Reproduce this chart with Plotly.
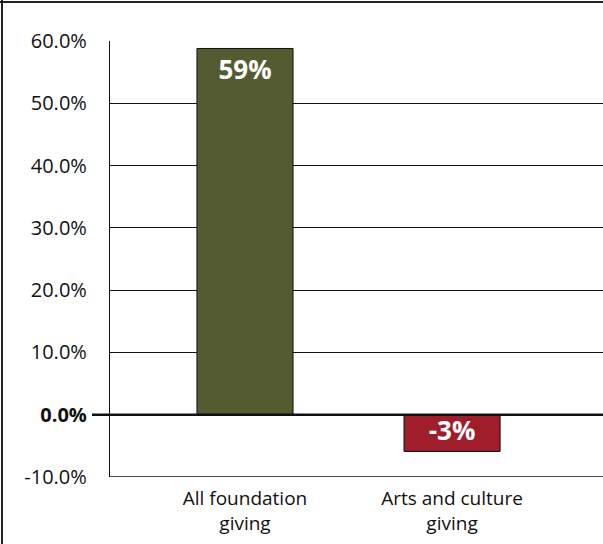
import plotly.graph_objects as go

categories = ["All foundation<br>giving", "Arts and culture<br>giving"]
values = [58.8, -5.9]
bar_labels = ["59%", "-3%"]
bar_colors = ["#555B30", "#A01D2B"]
tick_vals = [-10, 0, 10, 20, 30, 40, 50, 60]
tick_text = ["-10.0%", "<b>0.0%</b>", "10.0%", "20.0%", "30.0%", "40.0%", "50.0%", "60.0%"]

FONT = "Open Sans"
W, H = 603, 544
ML, MT, MB = 110, 41, 67
PW = W - ML

fig = go.Figure(go.Bar(
    x=[0, 1], y=values,
    width=0.464,
    marker=dict(color=bar_colors, line=dict(color="#111", width=1)),
    text=[f"<b>{t}</b>" for t in bar_labels],
    textposition="inside",
    insidetextanchor="end",
    constraintext="none",
    textfont=dict(family=FONT, size=26, color="white"),
    hoverinfo="skip",
))

fig.update_layout(
    width=W, height=H,
    margin=dict(l=ML, r=0, t=MT, b=MB),
    paper_bgcolor="white", plot_bgcolor="white",
    showlegend=False,
    font=dict(family=FONT, size=19, color="#111"),
    xaxis=dict(
        range=[-0.652, 1.729],
        tickvals=[0, 1], ticktext=categories,
        showgrid=False, zeroline=False, showline=False,
        ticks="", ticklabelstandoff=8,
        tickfont=dict(size=19, family=FONT),
    ),
    yaxis=dict(
        range=[-10, 60],
        tickvals=tick_vals, ticktext=tick_text,
        showgrid=True, gridcolor="#111", gridwidth=1.3,
        zeroline=False,
        showline=True, linecolor="#111", linewidth=1.3,
        ticks="", ticklabelstandoff=18,
        tickfont=dict(size=20, family=FONT),
    ),
    shapes=[
        # zero line extending left of axis
        dict(type="line", xref="paper", yref="y",
             x0=(92 - ML) / PW, x1=1, y0=0, y1=0,
             line=dict(color="#111", width=2.5), layer="above"),
        # bottom line
        dict(type="line", xref="paper", yref="y",
             x0=0, x1=1, y0=-10, y1=-10,
             line=dict(color="#111", width=1.3)),
        # outer frame: left and top
        dict(type="line", xref="paper", yref="paper",
             x0=(2 - ML) / PW, x1=(2 - ML) / PW, y0=-MB / 436, y1=(436 + MT) / 436,
             line=dict(color="#222", width=2)),
        dict(type="line", xref="paper", yref="paper",
             x0=-ML / PW, x1=1.01, y0=(436 + MT - 2) / 436, y1=(436 + MT - 2) / 436,
             line=dict(color="#222", width=2)),
    ],
)

fig.write_html("out.html")
